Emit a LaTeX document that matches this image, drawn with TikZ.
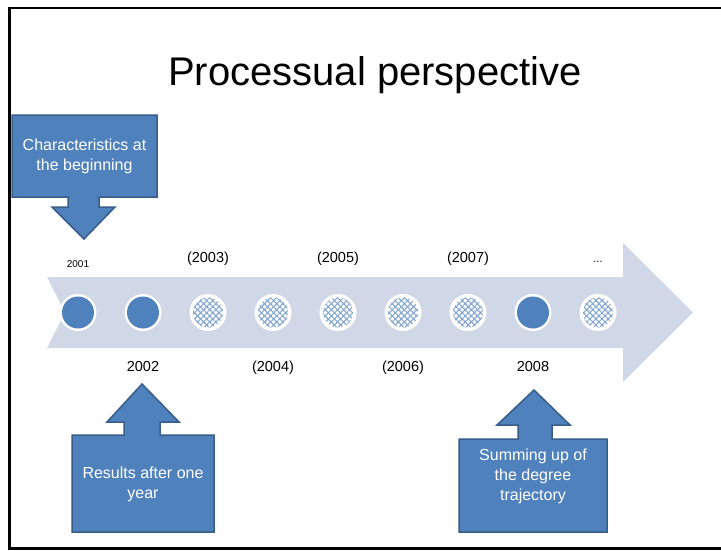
\documentclass[tikz,border=0pt]{standalone}
\usepackage{fontspec}
\setmainfont{Liberation Sans}
\usetikzlibrary{patterns.meta}
\definecolor{cblue}{HTML}{4F81BD}
\definecolor{cborder}{HTML}{385D8A}
\definecolor{carrow}{HTML}{D0D8E8}
\tikzset{
  callout/.style={fill=cblue, draw=cborder, line width=1.5pt, line join=miter},
  callouttext/.style={text=white, align=center, font=\fontsize{16}{20}\selectfont, inner sep=0pt},
  year/.style={anchor=base, inner sep=0pt, font=\fontsize{14.5}{17}\selectfont},
  ring/.style={circle, fill=white, minimum size=37pt, inner sep=0pt},
  solid/.style={circle, fill=cblue, minimum size=32pt, inner sep=0pt},
  hatch/.style={circle, minimum size=30pt, inner sep=0pt,
     pattern={Lines[angle=45,distance=4.3pt,line width=1.1pt]}, pattern color=cblue!70},
  hatchb/.style={circle, minimum size=30pt, inner sep=0pt,
     pattern={Lines[angle=-45,distance=4.3pt,line width=1.1pt]}, pattern color=cblue!70},
}
\begin{document}
\begin{tikzpicture}[x=1pt,y=-1pt]
\useasboundingbox (0,0) rectangle (721,550);
\fill[white] (0,0) rectangle (721,550);
% frame
\draw[line width=2.5pt] (722,8) -- (9.5,8) -- (9.5,548.5) -- (722,548.5);
% title
\node[anchor=base, inner sep=0pt, font=\fontsize{40}{48}\selectfont] (title) at (375,85) {Processual perspective};
% big arrow
\fill[carrow] (47,277) -- (623,277) -- (623,243) -- (693,312.5) -- (623,382) -- (623,348) -- (47,348) -- (65,312.5) -- cycle;
% circles
\foreach \i/\x/\t in {1/78/s,2/143/s,3/208/h,4/273/h,5/338/h,6/403/h,7/468/h,8/533/s,9/598/h}{
  \node[ring] (r\i) at (\x,312.5) {};
  \if s\t
    \node[solid] (c\i) at (\x,312.5) {};
  \else
    \node[hatch] (c\i) at (\x,312.5) {};
    \node[hatchb] (d\i) at (\x,312.5) {};
  \fi
}
% year labels
\node[year, font=\fontsize{10}{12}\selectfont] (y1) at (78,267) {2001};
\node[year] (y3) at (208,262) {(2003)};
\node[year] (y5) at (338,262) {(2005)};
\node[year] (y7) at (468,262) {(2007)};
\node[year, font=\fontsize{11}{12}\selectfont] (y9) at (598,262) {...};
\node[year] (y2) at (143,371) {2002};
\node[year] (y4) at (273,371) {(2004)};
\node[year] (y6) at (403,371) {(2006)};
\node[year] (y8) at (533,371) {2008};
% top-left callout
\draw[callout] (12,115) -- (157,115) -- (157,197) -- (99,197) -- (99,207) -- (115,207) -- (84,239) -- (52,207) -- (68,207) -- (68,197) -- (12,197) -- cycle;
\node[callouttext] (t1) at (84.5,156) {Characteristics at\\the beginning};
% bottom-left callout
\draw[callout] (142,384) -- (179,422) -- (160,422) -- (160,435) -- (214,435) -- (214,532) -- (72,532) -- (72,435) -- (124,435) -- (124,422) -- (107,422) -- cycle;
\node[callouttext] (t2) at (143,484) {Results after one\\year};
% bottom-right callout
\draw[callout] (534,390) -- (570,425) -- (552,425) -- (552,439) -- (607,439) -- (607,532) -- (459,532) -- (459,439) -- (518,439) -- (518,425) -- (497,425) -- cycle;
\node[callouttext] (t3) at (533,476) {Summing up of\\the degree\\trajectory};
\end{tikzpicture}
\end{document}
